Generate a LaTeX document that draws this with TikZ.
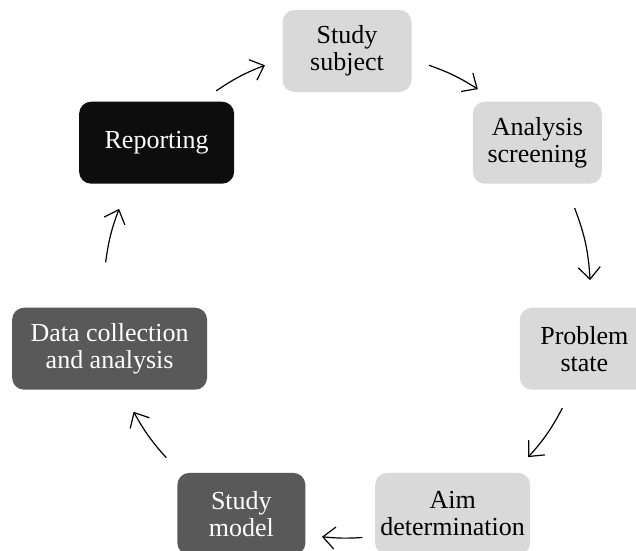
\documentclass[tikz,border=0pt]{standalone}
\usepackage{fontspec}
\setmainfont{Liberation Serif}
\usetikzlibrary{arrows.meta}
\definecolor{boxlight}{HTML}{D9D9D9}
\definecolor{boxdark}{HTML}{595959}
\definecolor{boxblack}{HTML}{0D0D0D}
\tikzstyle{lightbox} = [rectangle, rounded corners=12pt, minimum width=129pt, minimum height=82pt, inner sep=0pt, align=center, fill=boxlight, text=black, font=\fontsize{26}{27}\selectfont]
\tikzstyle{darkbox} = [lightbox, fill=boxdark, text=white]
\tikzstyle{blackbox} = [lightbox, fill=boxblack, text=white]
\tikzstyle{arrow} = [line width=1.2pt, -{Straight Barb[length=12pt,width=22pt]}]

\begin{document}
\begin{tikzpicture}[x=1pt, y=1pt]
    \useasboundingbox (-347,-255.5) rectangle (289,294.5);

    \node (subj) [lightbox] at (90:243.5) {Study\\subject};
    \node (screen) [lightbox] at (38.57:243.5) {Analysis\\screening};
    \node (prob) [lightbox] at (-12.86:243.5) {Problem\\state};
    \node (aim) [lightbox, minimum width=155pt] at (-64.29:243.5) {Aim\\determination};
    \node (model) [darkbox, minimum width=128pt] at (-115.71:243.5) {Study\\model};
    \node (data) [darkbox, minimum width=195pt] at (-167.14:243.5) {Data collection\\and analysis};
    \node (report) [blackbox, minimum width=155pt] at (141.43:243.5) {Reporting};

    % arrow ends on the circle
    \coordinate (a1s) at (122.7:242);  \coordinate (a1e) at (109.7:243.5);
    \coordinate (a2s) at (70.3:243.5);  \coordinate (a2e) at (57.5:243.5);
    \coordinate (a3s) at (20.8:243.5);  \coordinate (a3e) at (3.4:243.5);
    \coordinate (a4s) at (-27.8:243.5); \coordinate (a4e) at (-41.9:243.5);
    \coordinate (a5s) at (-86.4:243.5); \coordinate (a5e) at (-95.9:243.5);
    \coordinate (a6s) at (-137.9:243.5); \coordinate (a6e) at (-151.2:243.5);
    \coordinate (a7s) at (172.4:243.5); \coordinate (a7e) at (159.4:243.5);

    \draw [arrow] (a1s) to[bend left=6.5] (a1e);
    \draw [arrow] (a2s) to[bend left=6.4] (a2e);
    \draw [arrow] (a3s) to[bend left=8.7] (a3e);
    \draw [arrow] (a4s) to[bend left=7] (a4e);
    \draw [arrow] (a5s) to[bend left=4.8] (a5e);
    \draw [arrow] (a6s) to[bend left=6.6] (a6e);
    \draw [arrow] (a7s) to[bend left=6.5] (a7e);
\end{tikzpicture}
\end{document}
